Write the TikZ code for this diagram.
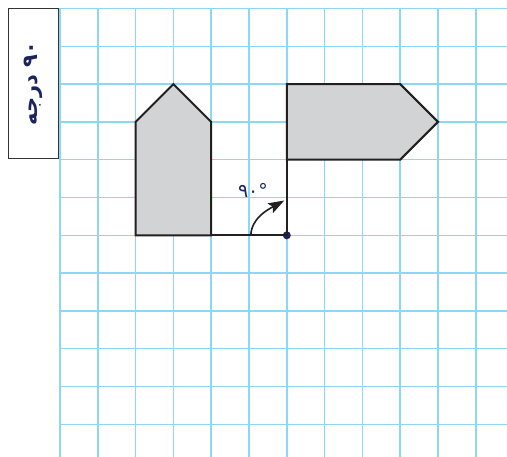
\documentclass[tikz,border=0pt]{standalone}
\usepackage{fontspec}
\usetikzlibrary{arrows.meta}
\TeXXeTstate=1
\newfontfamily\arabicfont[Script=Arabic]{DejaVu Sans}
\definecolor{gridblue}{RGB}{140,215,245}
\definecolor{shapefill}{RGB}{209,211,212}
\definecolor{edgeblack}{RGB}{35,31,32}
\definecolor{navy}{RGB}{27,36,96}
\tikzset{
  gridline/.style={draw=gridblue, line width=1.5pt},
  figshape/.style={draw=edgeblack, fill=shapefill, line width=2pt, line join=miter},
  figline/.style={draw=edgeblack, line width=2pt},
  labelbox/.style={draw=black!80, fill=white, line width=1.5pt, rotate=90,
    minimum width=150pt, minimum height=50pt, inner sep=0pt},
}
\begin{document}
\begin{tikzpicture}[x=1pt,y=-1pt]
\useasboundingbox (0,0) rectangle (507,457);
\foreach \i in {0,...,11}
  \draw[gridline] ({60+37.8*\i},8.5) -- ({60+37.8*\i},457);
\foreach \j in {0,...,11}
  \draw[gridline] (60,{8.5+37.8*\j}) -- (507,{8.5+37.8*\j});
% label box
\node (lbl) [labelbox, font=\arabicfont\bfseries\fontsize{21}{24}\selectfont, text=navy]
  at (33.3,83.5) {\beginR\beginL ۹۰\endL{} درجه\endR};
% coordinates
\coordinate (h1) at (135.6,235.3);
\coordinate (h2) at (135.6,121.9);
\coordinate (h3) at (173.4,84.1);
\coordinate (h4) at (211.2,121.9);
\coordinate (h5) at (211.2,235.3);
\coordinate (r1) at (286.8,84.1);
\coordinate (r2) at (400.2,84.1);
\coordinate (r3) at (438.0,121.9);
\coordinate (r4) at (400.2,159.7);
\coordinate (r5) at (286.8,159.7);
\coordinate (arcstart) at (250.8,235.3);
\coordinate (arcend) at (284.3,200.5);
% shapes
\draw[figshape] (h1) -- (h2) -- (h3) -- (h4) -- (h5) -- cycle;
\draw[figshape] (r1) -- (r2) -- (r3) -- (r4) -- (r5) -- cycle;
\node (pivot) [circle, fill=navy, inner sep=0pt, minimum size=8pt] at (286.8,235.3) {};
\draw[figline] (h5) -- (pivot.center) -- (r5);
\draw[line width=1.6pt, edgeblack, -{Stealth[length=16pt,width=11pt,inset=3pt]}]
  (arcstart) .. controls (251.5,218) and (268,209.5) .. (arcend);
\node (ang) [font=\arabicfont\fontsize{19}{22}\selectfont, text=navy, inner sep=0pt]
  at (253,190) {۹۰°};
\end{tikzpicture}
\end{document}
